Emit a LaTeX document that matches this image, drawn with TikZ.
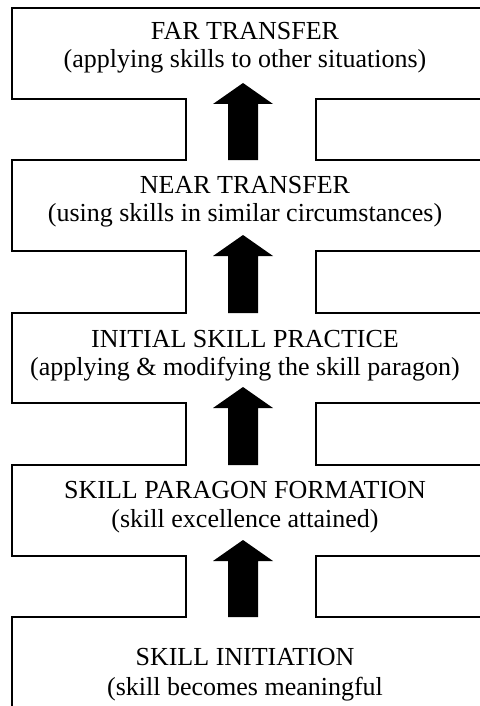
\documentclass[tikz,border=0pt]{standalone}
\usepackage{fontspec}
\setmainfont{Liberation Serif}
\usetikzlibrary{calc}
\begin{document}
\begin{tikzpicture}[x=1pt,y=-1pt,
  wall/.style={line width=2pt,line join=miter},
  stagetext/.style={font=\fontsize{26}{29}\selectfont,inner sep=0pt,anchor=base},
  blockarrow/.style={fill=black}]
\useasboundingbox (0,0) rectangle (479,706);
\fill[white] (0,0) rectangle (479,706);

% left wall of the stacked stages, one continuous outline
\draw[wall] (520,8) -- (12,8) -- (12,99) -- (186,99) -- (186,160) -- (12,160)
  -- (12,251) -- (186,251) -- (186,313) -- (12,313)
  -- (12,403) -- (186,403) -- (186,465) -- (12,465)
  -- (12,556) -- (186,556) -- (186,617) -- (12,617) -- (12,730);

% right walls of the necks between stages
\foreach \b/\t in {99/160,251/313,403/465,556/617}{
  \draw[wall] (520,\b) -- (316,\b) -- (316,\t) -- (520,\t);
}

% stage labels
\node[stagetext] (far)      at (245,40)  {FAR TRANSFER};
\node[stagetext] (farsub)   at (245,68)  {(applying skills to other situations)};
\node[stagetext] (near)     at (245,193) {NEAR TRANSFER};
\node[stagetext] (nearsub)  at (245,221) {(using skills in similar circumstances)};
\node[stagetext] (init)     at (245,347) {INITIAL SKILL PRACTICE};
\node[stagetext] (initsub)  at (245,375) {(applying \& modifying the skill paragon)};
\node[stagetext] (para)     at (245,498) {SKILL PARAGON FORMATION};
\node[stagetext] (parasub)  at (245,527) {(skill excellence attained)};
\node[stagetext] (start)    at (245,665) {SKILL INITIATION};
\node[stagetext] (startsub) at (245,695) {(skill becomes meaningful};

% block arrows leading up from each stage to the next
\foreach \i/\b/\t in {1/99/160,2/251/313,3/403/465,4/556/617}{
  \coordinate (tip\i)  at (243,\b-16);
  \coordinate (head\i) at (243,\b+5);
  \coordinate (foot\i) at (243,\t);
  \fill[blockarrow] ($(foot\i)+(-15,0)$) -- ($(head\i)+(-15,0)$) -- ($(head\i)+(-30,0)$)
    -- (tip\i) -- ($(head\i)+(30,0)$) -- ($(head\i)+(15,0)$) -- ($(foot\i)+(15,0)$) -- cycle;
}
\end{tikzpicture}
\end{document}
